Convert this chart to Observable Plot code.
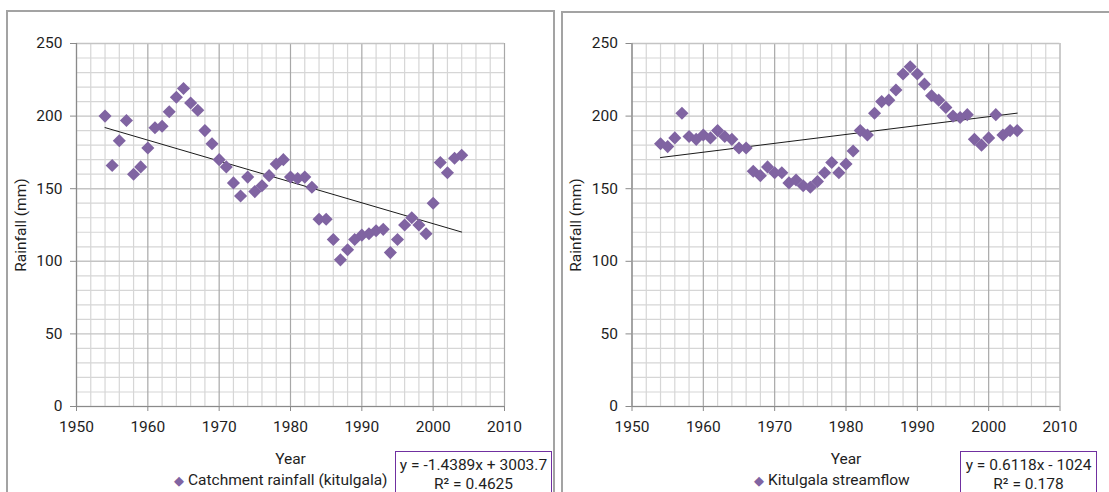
<!DOCTYPE html>
<html><head><meta charset="utf-8">
<script src="https://cdn.jsdelivr.net/npm/d3@7"></script>
<script src="https://cdn.jsdelivr.net/npm/@observablehq/plot@0.6"></script>
<style>
body{margin:0;background:#fff;width:1109px;height:492px;overflow:hidden;font-family:Roboto, sans-serif;}
#wrap{position:relative;width:1109px;height:492px;overflow:hidden;}
.panel{position:absolute;border:2px solid #a3a3a3;box-sizing:border-box;}
.chart{position:absolute;top:0;}
.legend{position:absolute;font-size:15.5px;color:#1e1e1e;white-space:nowrap;line-height:18px;}
.legend .sym{color:#8064a2;font-size:13px;margin-right:4px;}
.eq{position:absolute;border:1.5px solid #7030a0;box-sizing:border-box;text-align:center;font-size:15.5px;line-height:19px;color:#1e1e1e;background:#fff;padding-top:4px;white-space:nowrap;}
</style></head><body><div id="wrap"></div>
<script>
const years = [1954,1955,1956,1957,1958,1959,1960,1961,1962,1963,1964,1965,1966,1967,1968,1969,1970,1971,1972,1973,1974,1975,1976,1977,1978,1979,1980,1981,1982,1983,1984,1985,1986,1987,1988,1989,1990,1991,1992,1993,1994,1995,1996,1997,1998,1999,2000,2001,2002,2003,2004];
const rainfall = [200,166,183,197,160,165,178,192,193,203,213,219,209,204,190,181,170,165,154,145,158,148,152,159,167,170,158,157,158,151,129,129,115,101,108,115,118,119,121,122,106,115,125,130,125,119,140,168,161,171,173];
const streamflow = [181,179,185,202,186,184,187,185,190,186,184,178,178,162,159,165,161,161,154,156,152,151,155,161,168,161,167,176,190,187,202,210,211,218,229,234,229,222,214,211,206,200,199,201,184,180,185,201,187,190,190];
const xTicks = [1950,1960,1970,1980,1990,2000,2010];
const yTicks = [0,50,100,150,200,250];
const xMinor = [1952,1954,1956,1958,1962,1964,1966,1968,1972,1974,1976,1978,1982,1984,1986,1988,1992,1994,1996,1998,2002,2004,2006,2008];
const yMinor = [10,20,30,40,60,70,80,90,110,120,130,140,160,170,180,190,210,220,230,240];
const seriesNames = ["Catchment rainfall (kitulgala)", "Kitulgala streamflow"];
const slopes = [-1.4389, 0.6118];
const intercepts = [3003.7, -1024];
const eqTexts = ["y = -1.4389x + 3003.7", "y = 0.6118x - 1024"];
const r2Texts = ["R² = 0.4625", "R² = 0.178"];

const purple = "#8064a2";

function makeChart(values, slope, intercept, width, ml, mr) {
  const data = years.map((year, i) => ({year, value: values[i]}));
  const ends = [years[0], years[years.length - 1]];
  const trend = ends.map(x => ({year: x, value: slope * x + intercept}));
  return Plot.plot({
    width, height: 492,
    marginLeft: ml, marginRight: mr, marginTop: 43, marginBottom: 86,
    x: {domain: [1950, 2010]},
    y: {domain: [0, 250]},
    style: {fontFamily: "Roboto, sans-serif", fontSize: "15.5px", color: "#1e1e1e", background: "transparent", overflow: "visible"},
    marks: [
      Plot.gridX(xMinor, {stroke: "#d6d6d6", strokeOpacity: 1, strokeWidth: 1.2}),
      Plot.gridY(yMinor, {stroke: "#d6d6d6", strokeOpacity: 1, strokeWidth: 1.2}),
      Plot.gridX(xTicks, {stroke: "#a8a8a8", strokeOpacity: 1, strokeWidth: 1.2}),
      Plot.gridY(yTicks, {stroke: "#c4c4c4", strokeOpacity: 1, strokeWidth: 1.4}),
      Plot.ruleX([1950], {stroke: "#8a8a8a", strokeWidth: 1.2}),
      Plot.ruleY([0], {stroke: "#8a8a8a", strokeWidth: 1.2}),
      Plot.axisX({ticks: xTicks, tickSize: 5, tickPadding: 9, tickFormat: "d", stroke: "#8a8a8a",
        label: "Year", labelAnchor: "center", labelOffset: 57, labelArrow: "none"}),
      Plot.axisY({ticks: yTicks, tickSize: 6, tickPadding: 8, stroke: "#8a8a8a",
        label: "Rainfall (mm)", labelAnchor: "center", labelOffset: 62, labelArrow: "none"}),
      Plot.line(trend, {x: "year", y: "value", stroke: "#1a1a1a", strokeWidth: 1}),
      Plot.dot(data, {x: "year", y: "value", symbol: "diamond2", r: 5.9, fill: purple, stroke: "none"})
    ]
  });
}

const wrap = document.getElementById("wrap");
function addDiv(cls, style, html) {
  const d = document.createElement("div");
  d.className = cls;
  Object.assign(d.style, style);
  if (html) d.innerHTML = html;
  wrap.appendChild(d);
  return d;
}
addDiv("panel", {left: "6px", top: "10px", width: "549px", height: "520px"});
addDiv("panel", {left: "561px", top: "11px", width: "600px", height: "520px"});

const c1 = makeChart(rainfall, slopes[0], intercepts[0], 554, 76, 50);
c1.classList.add("chart"); c1.style.left = "0px";
wrap.appendChild(c1);
const c2 = makeChart(streamflow, slopes[1], intercepts[1], 553, 75.5, 49.5);
c2.classList.add("chart"); c2.style.left = "556px";
wrap.appendChild(c2);

addDiv("legend", {left: "174px", top: "471px"}, `<span class="sym">◆</span>${seriesNames[0]}`);
addDiv("legend", {left: "754px", top: "471px"}, `<span class="sym">◆</span>${seriesNames[1]}`);
addDiv("eq", {left: "395px", top: "451px", width: "157px", height: "60px"}, `${eqTexts[0]}<br>${r2Texts[0]}`);
addDiv("eq", {left: "960px", top: "451px", width: "137px", height: "60px"}, `${eqTexts[1]}<br>${r2Texts[1]}`);
</script></body></html>
